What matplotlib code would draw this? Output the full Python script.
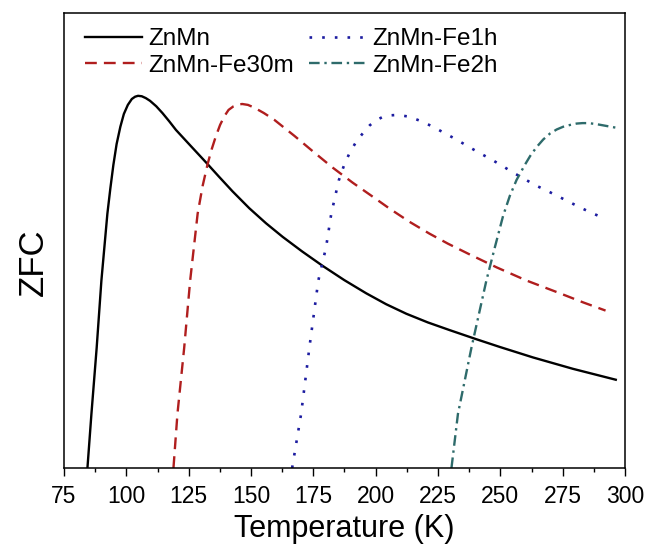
import matplotlib
matplotlib.use('Agg')
import matplotlib.pyplot as plt
from matplotlib.ticker import MultipleLocator, NullLocator

plt.rcParams['font.family'] = ['Liberation Sans', 'DejaVu Sans']

# ZFC curves (arbitrary units, 0-100 on the y axis)
T_ZnMn = [84.4, 86.0, 88.1, 90.0, 92.4, 93.6, 94.8, 96.1, 97.6, 99.0, 100.6, 102.2, 103.5, 104.7,
          106.2, 107.8, 109.5, 112.0, 114.5, 117.2, 119.9, 125.8, 131.9, 137.2, 142.6, 149.3, 156.0,
          162.7, 170.5, 178.8, 187.4, 196.2, 204.2, 212.3, 220.9, 229.7, 240.4, 249.8, 263.1, 279.1, 296.3]
ZFC_ZnMn = [0.0, 11.9, 26.4, 41.2, 55.9, 61.5, 66.6, 71.2, 75.0, 77.8, 79.8, 81.1, 81.6, 81.8,
            81.7, 81.3, 80.7, 79.5, 78.0, 76.2, 74.3, 70.8, 67.2, 64.0, 60.8, 57.1, 53.8,
            50.8, 47.6, 44.4, 41.3, 38.4, 36.0, 33.9, 32.0, 30.3, 28.3, 26.6, 24.3, 21.8, 19.4]

T_Fe30m = [118.9, 120.5, 123.2, 125.6, 128.6, 130.6, 132.6, 134.2, 135.9, 137.6, 139.3, 141.0, 143.0,
           144.8, 146.5, 148.8, 151.3, 155.2, 159.4, 167.4, 174.8, 182.8, 190.8, 198.9, 205.6, 213.6,
           221.6, 229.0, 237.1, 248.5, 260.5, 273.9, 283.2, 292.2]
ZFC_Fe30m = [0.0, 11.9, 26.4, 41.2, 55.9, 62.0, 66.8, 70.0, 72.9, 75.4, 77.3, 78.7, 79.5,
             79.9, 80.0, 79.8, 79.2, 78.0, 76.5, 73.0, 69.6, 66.0, 62.7, 59.6, 57.0, 54.1,
             51.5, 49.3, 47.1, 44.1, 41.2, 38.4, 36.4, 34.6]

T_Fe1h = [166.5, 170.1, 173.4, 177.0, 180.1, 182.2, 185.2, 187.3, 189.5, 192.4, 195.5, 197.6, 199.8,
          202.6, 205.6, 208.9, 213.6, 218.3, 223.0, 227.3, 231.7, 236.4, 241.1, 245.8, 250.5, 254.9,
          259.4, 264.2, 268.5, 273.2, 277.9, 282.6, 287.3, 292.0]
ZFC_Fe1h = [0.0, 11.9, 26.4, 41.2, 48.5, 55.9, 63.2, 66.5, 69.2, 71.9, 74.0, 75.3, 76.3,
            77.1, 77.5, 77.6, 77.2, 76.2, 75.0, 73.7, 72.4, 70.9, 69.4, 68.0, 66.5, 65.0,
            63.6, 62.1, 61.0, 59.7, 58.4, 57.1, 55.9, 54.8]

T_Fe2h = [230.4, 233.0, 238.4, 244.4, 247.8, 251.1, 253.8, 256.5, 259.8, 262.0, 264.5, 267.2, 269.9,
          272.6, 275.2, 278.0, 280.6, 283.0, 285.3, 288.3, 291.3, 296.3]
ZFC_Fe2h = [0.0, 11.9, 26.4, 41.2, 48.5, 55.4, 59.8, 63.3, 66.6, 68.6, 70.5, 72.2, 73.5,
            74.4, 75.0, 75.4, 75.7, 75.8, 75.8, 75.6, 75.3, 74.8]

fig = plt.figure(figsize=(6.59, 5.45), dpi=100)
ax = fig.add_axes([64 / 659, 1 - 468 / 545, 561 / 659, 455 / 545])

ax.plot(T_ZnMn, ZFC_ZnMn, color='black', lw=1.7, label='ZnMn')
ax.plot(T_Fe30m, ZFC_Fe30m, color='#B01E1E', lw=1.7, dashes=(5, 3), label='ZnMn-Fe30m')
ax.plot(T_Fe1h, ZFC_Fe1h, color='#1C1CA0', lw=1.9, dashes=(1, 3.8), label='ZnMn-Fe1h')
ax.plot(T_Fe2h, ZFC_Fe2h, color='#2E6B6B', lw=1.7, dashes=(4.5, 2, 1, 2), label='ZnMn-Fe2h')

ax.set_xlim(75, 300)
ax.set_ylim(0, 100)
ax.xaxis.set_major_locator(MultipleLocator(25))
ax.xaxis.set_minor_locator(MultipleLocator(12.5))
ax.yaxis.set_major_locator(NullLocator())
ax.tick_params(axis='x', which='major', direction='out', length=5.5, width=1, pad=7, labelsize=16.5)
ax.tick_params(axis='x', which='minor', direction='out', length=3, width=1)
for sp in ax.spines.values():
    sp.set_linewidth(1.1)

ax.set_xlabel('Temperature (K)', fontsize=22, labelpad=4)
ax.set_ylabel('ZFC', fontsize=25)
ax.yaxis.set_label_coords(-0.025, 0.453)

ax.legend(ncol=2, loc='upper left', bbox_to_anchor=(0.0374, 0.967), frameon=False,
          fontsize=17.5, handlelength=2.35, handletextpad=0.25, labelspacing=0.2,
          columnspacing=0.62, borderpad=0, borderaxespad=0)

plt.savefig('out.png', dpi=100)
